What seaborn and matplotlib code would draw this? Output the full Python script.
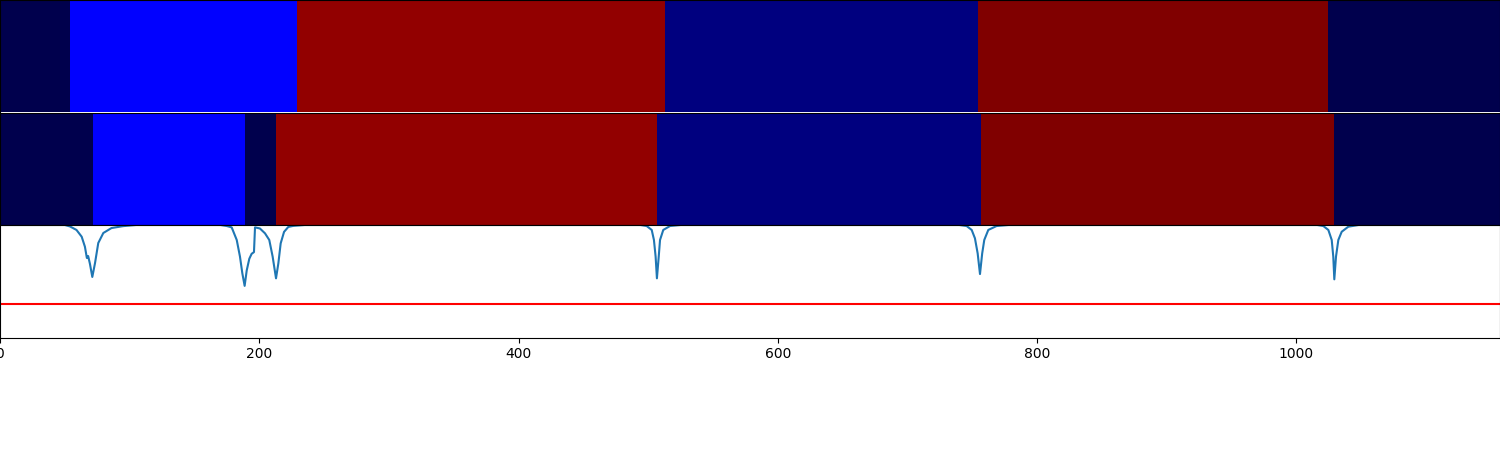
import numpy as np
import matplotlib
matplotlib.use("Agg")
import matplotlib.pyplot as plt
import seaborn as sns

# numero de frames do video
n_frames = 1157

# segmentos: frame inicial de cada segmento e o rotulo da classe
gt_starts = [0, 54, 229, 513, 754, 1024]
gt_labels = [0, 7, 27, 2, 28, 0]

pred_starts = [0, 72, 189, 213, 507, 757, 1029]
pred_labels = [0, 7, 0, 27, 2, 28, 0]

# confianca (vertices da curva)
conf_x = [0, 50, 54, 59, 63, 65.5, 67, 68, 69.4, 71.2, 73.3, 75.8, 79.7, 86, 95, 105,
          170, 174.9, 178.7, 182.6, 185.1, 186.9, 188.7, 190.3, 192.3, 194.1, 195.9,
          196.7, 200.5, 204.4, 207.7, 210.3, 212.9, 214.7, 216.5, 219.1, 222.4, 226.2, 235,
          494, 498.8, 502.7, 504.4, 505.7, 506.7, 508.1, 509.1, 511.6, 516.8, 525,
          740, 745.6, 749.5, 752.0, 754.1, 755.9, 757.6, 759.2, 762.3, 768.7, 778,
          1016, 1020.7, 1024.6, 1027.2, 1028.4, 1029.2, 1030.5, 1032.3, 1034.9, 1040.0, 1048,
          1157]
conf_y = [1.0, 1.0, 0.987, 0.956, 0.896, 0.807, 0.707, 0.724, 0.653, 0.538, 0.662, 0.84, 0.929, 0.973, 0.99, 1.0,
          1.0, 0.991, 0.979, 0.867, 0.719, 0.572, 0.459, 0.596, 0.70, 0.744, 0.759,
          0.979, 0.969, 0.926, 0.867, 0.719, 0.526, 0.659, 0.837, 0.939, 0.983, 0.992, 1.0,
          1.0, 0.991, 0.956, 0.867, 0.719, 0.526, 0.719, 0.867, 0.956, 0.991, 1.0,
          1.0, 0.991, 0.956, 0.882, 0.748, 0.564, 0.748, 0.867, 0.956, 0.991, 1.0,
          1.0, 0.991, 0.956, 0.867, 0.719, 0.517, 0.719, 0.867, 0.94, 0.985, 1.0,
          1.0]

limiar = 0.3


def montar_rotulos(starts, labels, n):
    arr = np.zeros(n, dtype=int)
    ends = starts[1:] + [n]
    for s, e, lab in zip(starts, ends, labels):
        arr[s:e] = lab
    return arr


linhas = [montar_rotulos(gt_starts, gt_labels, n_frames),
          montar_rotulos(pred_starts, pred_labels, n_frames)]

fig = plt.figure(figsize=(15, 4.5), dpi=100)
intervalo = 1 / 4
px = 1 / 450  # um pixel na altura da figura

# barras de segmentos
for i, linha in enumerate(linhas):
    if i == 0:
        # deixa uma linha branca fina entre as duas barras
        ax = fig.add_axes([0, 1 - intervalo + px, 1, intervalo - px])
    else:
        ax = fig.add_axes([0, 1 - (i + 1) * intervalo, 1, intervalo])
    sns.heatmap(linha[np.newaxis, :], cmap="seismic", vmin=0, vmax=28,
                cbar=False, xticklabels=False, yticklabels=False, ax=ax)
    ax.set_xticks([])
    ax.set_yticks([])
    for sp in ax.spines.values():
        sp.set_visible(True)
        sp.set_color("black")
    if i == 0:
        ax.spines["bottom"].set_visible(False)

# curva de confianca
ax4 = fig.add_axes([0, intervalo, 1, intervalo])
sns.lineplot(x=conf_x, y=conf_y, ax=ax4, sort=False, color="#1f77b4")
ax4.plot([0, n_frames], [limiar, limiar], color="red")
ax4.set_xlim(0, n_frames)
ax4.set_ylim(0, 1)
ax4.set_yticks([])

fig.savefig("out.png", dpi=100)
plt.close()
